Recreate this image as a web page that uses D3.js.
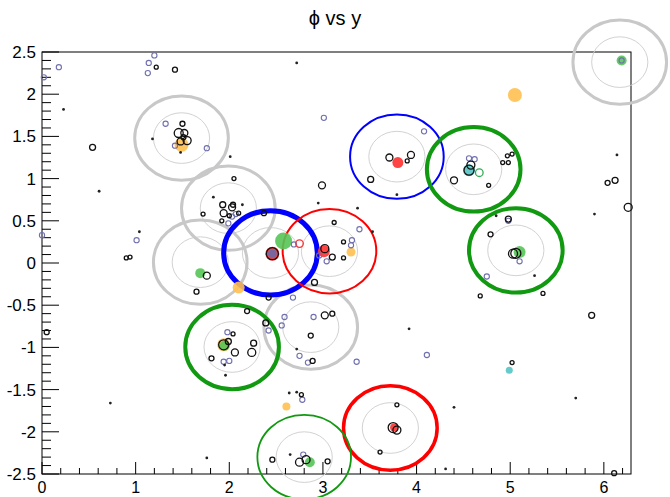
<!DOCTYPE html>
<html>
<head>
<meta charset="utf-8">
<script src="https://cdn.jsdelivr.net/npm/d3@7"></script>
<style>
  body { margin: 0; background: #fff; }
  svg text { font-family: "Liberation Sans", Arial, sans-serif; }
</style>
</head>
<body>
<svg id="chart" width="670" height="497"></svg>
<script>
// cones: type + centre (phi, y)
var coneType = ["gray", "gray", "gray", "gray", "gray",
                "blueThick", "blueThin", "redThin", "redMed",
                "greenThick", "greenThick", "greenThick", "greenThin"];
var coneX = [6.17, 1.49, 1.99, 1.69, 2.87, 2.44, 3.79, 3.07, 3.72, 4.61, 5.06, 2.03, 2.80];
var coneY = [2.38, 1.48, 0.65, 0.01, -0.76, 0.12, 1.26, 0.14, -1.955, 1.11, 0.15, -0.995, -2.30];
var coneR = 0.5, coreR = 0.3;

// black open circles: x, y, size
var blackX = [0.05, 0.54, 1.50, 1.46, 1.52, 1.55, 1.48, 1.51, 2.05,
              1.93, 1.94, 2.03, 2.04, 2.00, 1.72, 1.92, 2.10,
              2.46, 2.37, 2.42, 1.76, 1.65,
              3.02, 3.10, 3.22, 3.22, 3.12, 2.91,
              3.71, 3.94, 3.90, 3.51,
              4.56, 4.58, 4.40, 4.97, 5.02, 4.92, 4.98, 4.77,
              5.06, 5.03, 4.98, 4.79, 4.68, 5.35,
              1.94, 1.99, 2.06, 2.26, 2.24, 2.04, 1.81, 2.19, 2.39,
              3.02, 3.10, 2.87, 2.89, 2.77,
              2.75, 2.82, 2.46, 3.05,
              3.75, 3.79, 3.61, 3.79,
              6.12, 6.04, 6.26, 5.87, 6.11, 5.02,
              1.42, 1.22, 2.99, 0.90, 0.94];
var blackY = [-0.82, 1.37, 1.65, 1.54, 1.54, 1.45, 1.44, 1.49, 1.00,
              0.69, 0.59, 0.66, 0.69, 0.56, 0.58, 0.50, 0.59,
              0.11, 0.59, -0.41, -0.15, -0.34,
              0.17, 0.07, 0.25, 0.06, 0.48, -0.23,
              1.25, 1.28, 1.21, 0.99,
              1.10, 1.16, 0.98, 1.27, 1.29, 1.19, 1.19, 0.92,
              0.115, 0.11, 0.52, 0.34, -0.39, -0.36,
              -0.97, -0.93, -1.06, -0.95, -1.06, -0.84, -1.13, -0.57, -0.71,
              -0.62, -0.60, -0.86, -1.16, -1.56,
              -2.36, -2.33, -2.33, -2.35,
              -1.95, -1.98, -2.24, -1.68,
              0.98, 0.95, 0.66, -0.62, -2.49, -1.18,
              2.29, 2.32, 0.92, 0.06, 0.07];
var blackS = [2.5, 3, 2.5, 4.5, 3.5, 4, 3.5, 2.5, 2,
              3, 3.5, 3.5, 2.5, 2, 2, 2, 2,
              6, 2.5, 2.5, 3.5, 2.5,
              4, 3, 2, 2, 2, 3,
              3.5, 3.5, 2, 3,
              5, 4, 3.5, 2, 2, 2, 2, 2,
              5, 4.5, 3, 2.5, 2, 2,
              5, 3, 3.5, 3, 4, 2, 2.5, 2.5, 3,
              3.5, 2.5, 2.5, 2.5, 2,
              4, 4, 2.5, 2.5,
              5, 4, 2, 2,
              3, 2.5, 4, 3, 2.5, 2,
              2.5, 2, 3.5, 2, 2];

// small black dots
var dotX = [0.23, 0.61, 0.73, 1.18, 1.48, 2.01, 2.72, 3.37, 3.53, 3.79, 4.85, 5.26,
            1.95, 1.96, 2.72, 2.64, 2.65, 1.76, 4.31, 6.14, 5.90, 5.70, 4.40, 3.92,
            1.83, 2.14, 1.04, 2.95, 2.72];
var dotY = [1.82, 0.85, -1.66, 1.47, 1.31, 1.26, 2.37, 0.65, 0.37, 0.81, 0.56, -0.15,
            -1.21, -1.33, -1.02, -1.54, -2.27, -2.31, -2.44, 1.28, 0.58, -1.60, -1.71, -0.78,
            0.78, 0.69, 0.37, 0.71, -1.53];

// small purple open circles
var purpleX = [0.18, 0.00, 1.32, 1.42, 1.76, 1.20, 1.14, 1.13, 1.01, 2.69, 2.96, 3.04,
               3.31, 3.30, 3.39, 4.08, 4.56, 4.62, 5.10, 4.98, 4.75, 1.98, 1.94, 2.00,
               2.90, 2.59, 2.56, 2.42, 2.75, 2.84, 3.36, 4.11, 2.79, 2.78, 1.99, 2.07,
               2.03, 3.01, 0.02, 2.68, 6.19];
var purpleY = [2.32, 0.33, 1.65, 1.39, 1.36, 2.46, 2.37, 2.25, 0.27, 0.22, 0.09, 0.02,
               0.27, 0.21, 0.40, 1.56, 1.24, 1.23, 0.02, 0.50, -0.16, -0.82, -1.17, -1.16,
               -0.64, -0.64, -0.74, -0.80, -1.10, -1.18, -1.17, -1.09, -2.27, -1.62, 0.47, 0.58,
               0.55, 1.72, 2.20, -0.41, 2.40];

// filled discs
var fillX = [1.49, 2.10, 3.30, 1.94, 5.05, 2.61,
             2.58, 1.69, 1.95, 5.10, 2.86, 6.19,
             2.46, 3.01, 3.80, 3.76,
             4.56, 4.99, 2.46];
var fillY = [1.40, -0.29, 0.13, -0.97, 1.99, -1.70,
             0.26, -0.12, -0.98, 0.13, -2.36, 2.40,
             0.11, 0.14, 1.19, -1.95,
             1.10, -1.27, 0.11];
var fillS = [7, 6, 4.5, 6.5, 7, 4,
             8.5, 5, 5, 6, 5, 5,
             7, 6, 5.5, 4,
             6, 3.5, 4.5];
var fillKind = ["orange", "orange", "orange", "orange", "orange", "orange",
                "green", "green", "green", "green", "green", "green",
                "red", "red", "red", "red",
                "cyan", "cyan", "purple"];

// coloured open rings
var ringX = [2.75, 4.67];
var ringY = [0.23, 1.07];
var ringKind = ["red", "green"];

var xTicks = [0, 1, 2, 3, 4, 5, 6];
var yTicks = [-2.5, -2, -1.5, -1, -0.5, 0, 0.5, 1, 1.5, 2, 2.5];

var coneStyle = {
  gray: { color: "#c8c8c8", w: 3 },
  blueThick: { color: "#0000ff", w: 5 },
  blueThin: { color: "#0000ff", w: 2 },
  redThin: { color: "#ff0000", w: 2 },
  redMed: { color: "#ff0000", w: 3.5 },
  greenThick: { color: "#119911", w: 4 },
  greenThin: { color: "#119911", w: 1.8 }
};
var fillColor = { orange: "#ffc050", green: "#55c455", red: "#ff3030", cyan: "#55c4c4", purple: "#6a6aaa" };
var ringColor = { red: "#ff3030", green: "#33aa55" };

var svg = d3.select("#chart");
var x = d3.scaleLinear().domain([0, 6.29]).range([42, 631]);
var y = d3.scaleLinear().domain([-2.5, 2.5]).range([474, 52]);
var rx = function (r) { return x(r) - x(0); };
var ry = function (r) { return y(0) - y(r); };

// title
svg.append("text")
  .attr("x", 335).attr("y", 25)
  .attr("text-anchor", "middle")
  .attr("font-size", 20)
  .text("\u03D5 vs y");

// frame
svg.append("rect")
  .attr("x", x(0)).attr("y", y(2.5))
  .attr("width", x(6.29) - x(0)).attr("height", y(-2.5) - y(2.5))
  .attr("fill", "none").attr("stroke", "#000").attr("stroke-width", 1);

// axis ticks drawn inward, ROOT style
var xMinor = d3.range(0, 6.29, 0.2);
svg.append("g").selectAll("line").data(xMinor).enter().append("line")
  .attr("x1", d => x(d)).attr("x2", d => x(d))
  .attr("y1", y(-2.5)).attr("y2", d => y(-2.5) - (Math.abs(d - Math.round(d)) < 1e-6 ? 12 : 6))
  .attr("stroke", "#000");
svg.append("g").selectAll("text").data(xTicks).enter().append("text")
  .attr("x", d => x(d)).attr("y", 493)
  .attr("text-anchor", "middle").attr("font-size", 16)
  .text(d => d);

var yMinor = d3.range(-25, 26, 1).map(d => d / 10);
svg.append("g").selectAll("line").data(yMinor).enter().append("line")
  .attr("x1", x(0)).attr("x2", d => x(0) + (Math.abs(d * 2 - Math.round(d * 2)) < 1e-6 ? 17 : 9))
  .attr("y1", d => y(d)).attr("y2", d => y(d))
  .attr("stroke", "#000");
svg.append("g").selectAll("text").data(yTicks).enter().append("text")
  .attr("x", 36).attr("y", d => y(d) + 6)
  .attr("text-anchor", "end").attr("font-size", 17)
  .text(d => d);

// cones: inner core ring and outer ring
var cones = coneType.map((t, i) => ({ t: t, x: coneX[i], y: coneY[i] }));
svg.append("g").selectAll("ellipse").data(cones).enter().append("ellipse")
  .attr("cx", d => x(d.x)).attr("cy", d => y(d.y))
  .attr("rx", rx(coreR)).attr("ry", ry(coreR))
  .attr("fill", "none").attr("stroke", "#d2d2d2").attr("stroke-width", 1);
svg.append("g").selectAll("ellipse").data(cones).enter().append("ellipse")
  .attr("cx", d => x(d.x)).attr("cy", d => y(d.y))
  .attr("rx", rx(coneR)).attr("ry", ry(coneR))
  .attr("fill", "none")
  .attr("stroke", d => coneStyle[d.t].color)
  .attr("stroke-width", d => coneStyle[d.t].w);

// filled discs
var fills = fillKind.map((k, i) => ({ k: k, x: fillX[i], y: fillY[i], s: fillS[i] }));
svg.append("g").selectAll("circle").data(fills).enter().append("circle")
  .attr("cx", d => x(d.x)).attr("cy", d => y(d.y)).attr("r", d => d.s)
  .attr("fill", d => fillColor[d.k]).attr("fill-opacity", 0.9);

// purple open circles
svg.append("g").selectAll("circle").data(purpleX).enter().append("circle")
  .attr("cx", d => x(d)).attr("cy", (d, i) => y(purpleY[i])).attr("r", 2.6)
  .attr("fill", "none").attr("stroke", "#7070b0").attr("stroke-width", 1.1);

// black open circles
svg.append("g").selectAll("circle").data(blackX).enter().append("circle")
  .attr("cx", d => x(d)).attr("cy", (d, i) => y(blackY[i])).attr("r", (d, i) => blackS[i])
  .attr("fill", "none").attr("stroke", "#111").attr("stroke-width", 1.3);

// black dots
svg.append("g").selectAll("circle").data(dotX).enter().append("circle")
  .attr("cx", d => x(d)).attr("cy", (d, i) => y(dotY[i])).attr("r", 1.4)
  .attr("fill", "#222");

// coloured rings
svg.append("g").selectAll("circle").data(ringX).enter().append("circle")
  .attr("cx", d => x(d)).attr("cy", (d, i) => y(ringY[i])).attr("r", 3.8)
  .attr("fill", "none").attr("stroke", (d, i) => ringColor[ringKind[i]]).attr("stroke-width", 1.3);
</script>
</body>
</html>
